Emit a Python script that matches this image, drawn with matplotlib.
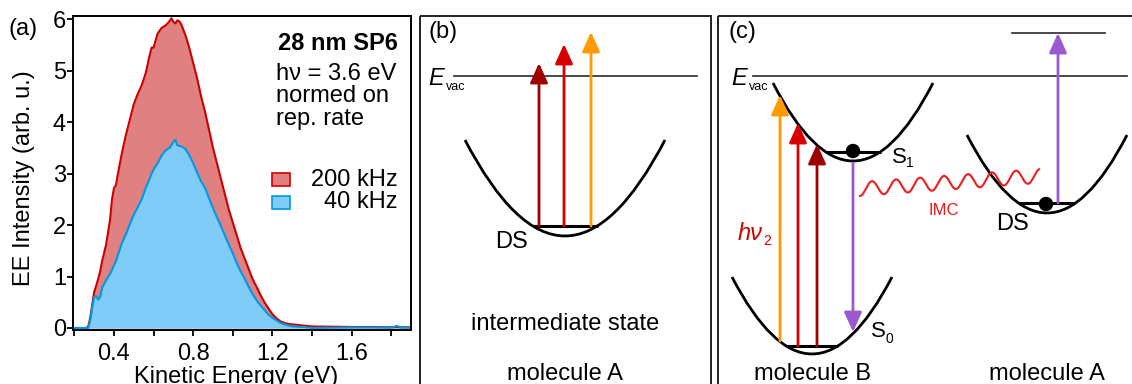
import numpy as np
import matplotlib
matplotlib.use("Agg")
import matplotlib.pyplot as plt
from matplotlib.patches import Rectangle, PathPatch, Circle
from matplotlib.path import Path

plt.rcParams['font.family'] = ['Liberation Sans', 'DejaVu Sans']
plt.rcParams['font.size'] = 17

# electron emission spectra, 28 nm SP6, hv = 3.6 eV
energy = [0.19, 0.26, 0.27, 0.28, 0.29, 0.30, 0.31, 0.32, 0.33, 0.34, 0.36, 0.38, 0.39,
          0.40, 0.41, 0.42, 0.44, 0.46, 0.48, 0.50, 0.52, 0.54, 0.56, 0.58, 0.59, 0.60,
          0.62, 0.64, 0.66, 0.68, 0.69, 0.70, 0.71, 0.72, 0.73, 0.74, 0.76, 0.78, 0.80,
          0.82, 0.84, 0.86, 0.88, 0.90, 0.92, 0.94, 0.96, 0.98, 1.00, 1.02, 1.04, 1.06,
          1.08, 1.10, 1.12, 1.14, 1.16, 1.18, 1.20, 1.22, 1.24, 1.26, 1.28, 1.30, 1.35,
          1.40, 1.50, 1.60, 1.70, 1.80, 1.83, 1.85, 1.90]
ee_200khz = [0.0, 0.0, 0.03, 0.2, 0.45, 0.7, 0.82, 0.95, 1.1, 1.3, 1.62, 2.1, 2.5,
             2.72, 2.78, 3.0, 3.4, 3.75, 4.05, 4.35, 4.55, 4.72, 4.95, 5.3, 5.45, 5.45,
             5.72, 5.83, 5.88, 5.96, 6.02, 5.95, 5.92, 5.98, 5.96, 5.9, 5.7, 5.45, 5.15,
             4.85, 4.5, 4.2, 3.85, 3.5, 3.2, 2.9, 2.6, 2.3, 2.05, 1.8, 1.55, 1.35,
             1.15, 0.95, 0.8, 0.64, 0.5, 0.38, 0.27, 0.19, 0.13, 0.1, 0.08, 0.07, 0.05,
             0.03, 0.025, 0.02, 0.02, 0.015, 0.02, 0.015, 0.015]
ee_40khz = [0.0, 0.0, 0.0, 0.15, 0.4, 0.6, 0.62, 0.55, 0.6, 0.78, 0.93, 1.05, 1.13,
            1.22, 1.3, 1.42, 1.65, 1.82, 2.02, 2.2, 2.35, 2.5, 2.72, 2.9, 3.0, 3.08,
            3.2, 3.35, 3.45, 3.5, 3.55, 3.62, 3.66, 3.55, 3.54, 3.53, 3.48, 3.36, 3.2,
            3.02, 2.85, 2.72, 2.52, 2.33, 2.15, 1.98, 1.8, 1.62, 1.45, 1.26, 1.1, 0.96,
            0.8, 0.66, 0.54, 0.44, 0.35, 0.26, 0.2, 0.15, 0.1, 0.07, 0.05, 0.03, 0.02,
            0.0, 0.005, 0.01, 0.01, 0.01, 0.04, 0.01, 0.01]
rates = ['200 kHz', '40 kHz']
x_major = [0.4, 0.8, 1.2, 1.6]
x_minor = [0.2, 0.6, 1.0, 1.4, 1.8]
y_major = [0, 1, 2, 3, 4, 5, 6]

# schematic geometry (pixel units of the figure canvas)
# potential wells: (vertex x, vertex y, half width, depth)
well_b_ds = (565, 236, 100, 96)
well_c_s1 = (853, 161, 80, 78)
well_c_s0 = (812, 354, 80, 77)
well_c_ds = (1047, 213, 80, 78)
# vibrational ground levels: (x0, x1, y)
levels = [(533, 598, 226), (826, 881, 152), (786, 838, 346), (1019, 1074, 203)]
# arrows: (x, y_start, y_tip, colour)
arrows = [(539, 226, 63, '#9e0000'), (564, 226, 44, '#d90000'), (591, 226, 32, '#ff9a00'),
          (780, 341, 95, '#ff9a00'), (798, 346, 123, '#d90000'), (817, 346, 144, '#9e0000'),
          (853, 163, 332, '#9b59d0'), (1058, 203, 33, '#9b59d0')]
vac_levels = [(454, 697, 76), (753, 1127, 76), (1012, 1105, 33)]
dots = [(853, 151), (1046, 204)]

W, H = 1132, 384
fig = plt.figure(figsize=(W / 100, H / 100), dpi=100)

# ---- (a) spectra ----
ax = fig.add_axes([73 / W, 1 - 330 / H, (411 - 73) / W, (330 - 16) / H])
ax.fill_between(energy, ee_200khz, color='#e08080', lw=0)
ax.fill_between(energy, ee_40khz, color='#80ccf8', lw=0)
ax.plot(energy, ee_200khz, color='#cc0000', lw=1.5)
ax.plot(energy, ee_40khz, color='#0099e6', lw=1.5)
ax.set_xlim(0.193, 1.9)
ax.set_ylim(-0.039, 6.064)
ax.set_xticks(x_major)
ax.set_xticks(x_minor, minor=True)
ax.set_yticks(y_major)
ax.tick_params(axis='both', direction='out', length=4, width=1.3, labelsize=17)
ax.tick_params(axis='x', which='minor', direction='out', length=4, width=1.3)
ax.tick_params(axis='y', pad=1)
ax.tick_params(axis='x', pad=5)
for s in ax.spines.values():
    s.set_linewidth(1.4)
ax.set_xlabel('Kinetic Energy (eV)', va='baseline')
ax.xaxis.set_label_coords((236 - 73) / (411 - 73), (330 - 383.5) / (330 - 16))
ax.set_ylabel('EE Intensity (arb. u.)', va='center')
ax.yaxis.set_label_coords((24 - 73) / (411 - 73), (330 - 178) / (330 - 16))

# ---- overlay for annotations and schematics ----
ov = fig.add_axes([0, 0, 1, 1])
ov.set_xlim(0, W)
ov.set_ylim(H, 0)
ov.axis('off')
ov.patch.set_alpha(0)

ov.text(9, 35, '(a)', ha='left', va='baseline')
ov.text(398, 50.5, '28 nm SP6', ha='right', va='baseline', fontweight='bold')
ov.text(276, 80, 'hν = 3.6 eV', ha='left', va='baseline')
ov.text(276, 102, 'normed on', ha='left', va='baseline')
ov.text(276, 125, 'rep. rate', ha='left', va='baseline')
for (label, fc, ec, y) in zip(rates, ['#e08080', '#80ccf8'], ['#cc0000', '#0099e6'], [173, 196]):
    ov.add_patch(Rectangle((272, y), 18, 13, fc=fc, ec=ec, lw=1.2))
    ov.text(398, y + 12.5, label, ha='right', va='baseline')

# panel frames
ov.add_patch(Rectangle((420, 16), 291, 400, fill=False, ec='#222222', lw=1.4, clip_on=False))
ov.add_patch(Rectangle((718, 16), 430, 400, fill=False, ec='#222222', lw=1.4, clip_on=False))
ov.text(428, 38, '(b)', ha='left', va='baseline')
ov.text(729, 38, '(c)', ha='left', va='baseline')

for x0, x1, y in vac_levels:
    ov.plot([x0, x1], [y, y], color='#2a2a2a', lw=1.2)
for xe in (428, 731):
    ov.text(xe, 85, 'E', ha='left', va='baseline', fontstyle='italic')
    ov.text(xe + 18, 89.5, 'vac', ha='left', va='baseline', fontsize=9)


def well(xv, yv, hw, d):
    # a parabola is a quadratic Bezier through both rims and the vertex
    verts = [(xv - hw, yv - d), (xv, yv + d), (xv + hw, yv - d)]
    codes = [Path.MOVETO, Path.CURVE3, Path.CURVE3]
    ov.add_patch(PathPatch(Path(verts, codes), fill=False, ec='black', lw=2.0))


for w in (well_b_ds, well_c_s1, well_c_s0, well_c_ds):
    well(*w)
for x0, x1, y in levels:
    ov.plot([x0, x1], [y, y], color='black', lw=2.2, solid_capstyle='butt')

for x, y0, y1, c in arrows:
    ov.annotate('', xy=(x, y1), xytext=(x, y0),
                arrowprops=dict(arrowstyle='-|>,head_length=1.0,head_width=0.45',
                                mutation_scale=12, color=c, lw=2.0,
                                shrinkA=0, shrinkB=0))

for x, y in dots:
    ov.add_patch(Circle((x, y), 6.5, color='black', zorder=5))

# IMC coupling wave
wx = np.linspace(860, 1039, 400)
wy = 189 - (wx - 860) * 13 / 179 + 7 * np.cos(2 * np.pi * (wx - 860) / 24)
ov.plot(wx, wy, color='#ee1c1c', lw=1.5)
ov.text(928, 215, 'IMC', color='#ee1c1c', fontsize=12, ha='left', va='baseline')

ov.text(495, 248, 'DS', ha='left', va='baseline')
ov.text(565, 330, 'intermediate state', ha='center', va='baseline')
ov.text(565, 380, 'molecule A', ha='center', va='baseline')

ov.text(892, 163, 'S', ha='left', va='baseline', fontsize=16)
ov.text(906, 167, '1', ha='left', va='baseline', fontsize=10)
ov.text(871, 337, 'S', ha='left', va='baseline', fontsize=16)
ov.text(885, 343, '0', ha='left', va='baseline', fontsize=10)
ov.text(996, 230, 'DS', ha='left', va='baseline')
ov.text(738, 240, 'hν', ha='left', va='baseline', fontstyle='italic', color='#d00000')
ov.text(763, 245, '2', ha='left', va='baseline', fontsize=10, color='#d00000')
ov.text(812, 380, 'molecule B', ha='center', va='baseline')
ov.text(1047, 380, 'molecule A', ha='center', va='baseline')

fig.savefig('out.png', dpi=100)
